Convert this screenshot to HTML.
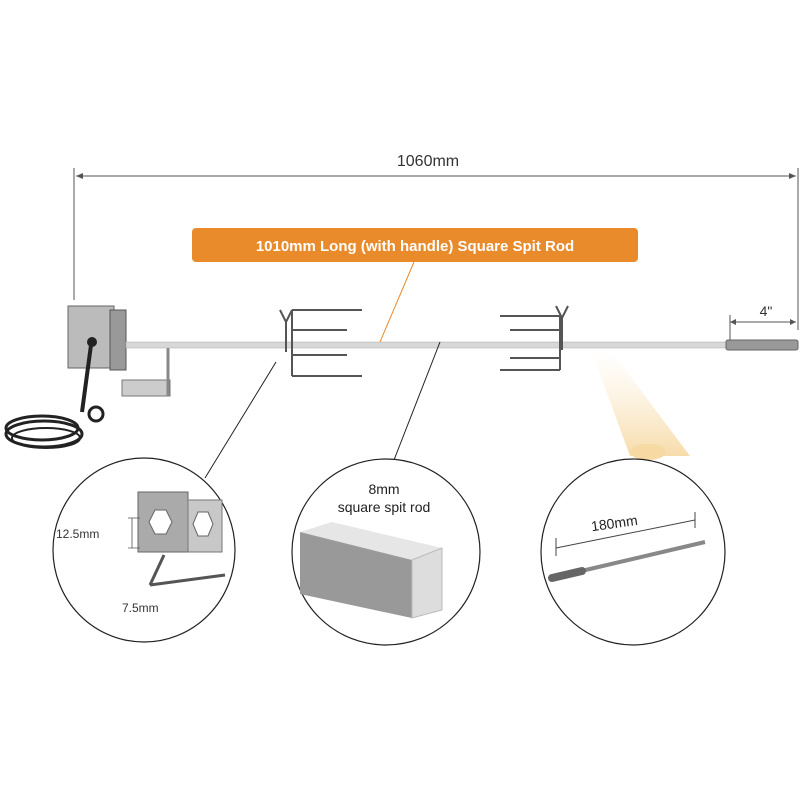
<!DOCTYPE html>
<html><head><style>body{margin:0;background:#fff}svg{display:block}text{font-family:"Liberation Sans",sans-serif}</style></head><body>
<svg width="800" height="800" viewBox="0 0 800 800">
<defs><linearGradient id="cone" x1="0" y1="0" x2="0" y2="1"><stop offset="0" stop-color="#fff" stop-opacity="0.6"/><stop offset="1" stop-color="#f7dcaa"/></linearGradient></defs>
<line x1="74" y1="168" x2="74" y2="300" stroke="#555" stroke-width="1"/>
<line x1="798" y1="168" x2="798" y2="330" stroke="#555" stroke-width="1"/>
<line x1="76" y1="176" x2="796" y2="176" stroke="#555" stroke-width="1"/>
<path d="M76 176 l7 -3 v6z M796 176 l-7 -3 v6z" fill="#555"/>
<text x="428" y="166" font-size="16" fill="#333" text-anchor="middle">1060mm</text>
<rect x="192" y="228" width="446" height="34" rx="4" fill="#e98a2b"/>
<text x="415" y="251" font-size="15" font-weight="bold" fill="#fff" text-anchor="middle">1010mm Long (with handle) Square Spit Rod</text>
<line x1="414" y1="262" x2="380" y2="342" stroke="#e98a2b" stroke-width="1"/>
<line x1="730" y1="322" x2="796" y2="322" stroke="#555"/>
<path d="M730 322 l6 -3 v6z M796 322 l-6 -3 v6z" fill="#555"/>
<line x1="730" y1="315" x2="730" y2="340" stroke="#555"/>
<text x="766" y="316" font-size="14" fill="#333" text-anchor="middle">4"</text>
<!-- motor -->
<rect x="68" y="306" width="46" height="62" fill="#bbb" stroke="#666"/>
<rect x="110" y="310" width="16" height="60" fill="#999" stroke="#555"/>
<circle cx="92" cy="342" r="5" fill="#222"/>
<path d="M91 345 L82 412" stroke="#222" stroke-width="4" fill="none"/>
<ellipse cx="42" cy="428" rx="36" ry="12" fill="none" stroke="#222" stroke-width="3"/>
<ellipse cx="44" cy="434" rx="38" ry="13" fill="none" stroke="#222" stroke-width="3"/>
<ellipse cx="46" cy="438" rx="34" ry="10" fill="none" stroke="#222" stroke-width="2"/>
<circle cx="96" cy="414" r="7" fill="none" stroke="#222" stroke-width="3"/>
<rect x="122" y="380" width="48" height="16" fill="#ccc" stroke="#777"/>
<line x1="168" y1="346" x2="168" y2="396" stroke="#888" stroke-width="3"/>
<rect x="126" y="342" width="600" height="6" fill="#d8d8d8" stroke="#aaa" stroke-width="0.5"/>
<rect x="726" y="340" width="72" height="10" rx="2" fill="#999" stroke="#666"/>
<g stroke="#555" stroke-width="2" fill="none">
<path d="M292 310 h70 M292 330 h55 M292 355 h55 M292 376 h70 M292 310 v66"/>
<path d="M280 310 l6 12 l6 -12 M286 322 v30"/>
<path d="M560 316 h-60 M560 330 h-50 M560 358 h-50 M560 370 h-60 M560 316 v54"/>
<path d="M556 306 l6 12 l6 -12 M562 318 v32"/>
</g>
<path d="M592 352 L612 352 L690 456 L630 456 Z" fill="url(#cone)"/>
<ellipse cx="648" cy="452" rx="18" ry="8" fill="#f6d9a3"/>
<line x1="276" y1="362" x2="205" y2="478" stroke="#222"/>
<line x1="440" y1="342" x2="394" y2="460" stroke="#222"/>
<g fill="#fff" stroke="#222" stroke-width="1.2">
<ellipse cx="144" cy="550" rx="91" ry="92"/>
<ellipse cx="386" cy="552" rx="94" ry="93"/>
<ellipse cx="633" cy="552" rx="92" ry="93"/>
</g>
<rect x="138" y="492" width="50" height="60" fill="#aaa" stroke="#666"/>
<rect x="188" y="500" width="34" height="52" fill="#c8c8c8" stroke="#777"/>
<polygon points="155,510 166,510 172,522 166,534 155,534 149,522" fill="#fff" stroke="#666"/>
<polygon points="198,512 208,512 213,524 208,536 198,536 193,524" fill="#fff" stroke="#666"/>
<path d="M150 585 L225 575 M150 585 l14 -30" stroke="#555" stroke-width="3" fill="none"/>
<path d="M128 518 h12 M128 548 h12 M132 518 v30" stroke="#555" stroke-width="0.8" fill="none"/>
<text x="56" y="538" font-size="12" fill="#333">12.5mm</text>
<text x="122" y="612" font-size="12" fill="#333">7.5mm</text>
<text x="384" y="494" font-size="14" fill="#222" text-anchor="middle">8mm</text>
<text x="384" y="512" font-size="14" fill="#222" text-anchor="middle">square spit rod</text>
<polygon points="300,532 332,522 442,548 412,560" fill="#e6e6e6"/>
<polygon points="300,532 412,560 412,618 300,594" fill="#999"/>
<polygon points="412,560 442,548 442,610 412,618" fill="#ddd" stroke="#bbb"/>
<text x="615" y="528" font-size="14" fill="#222" text-anchor="middle" transform="rotate(-8 615 528)">180mm</text>
<line x1="556" y1="548" x2="695" y2="520" stroke="#444"/>
<line x1="556" y1="538" x2="556" y2="556" stroke="#444"/>
<line x1="695" y1="512" x2="695" y2="528" stroke="#444"/>
<line x1="560" y1="576" x2="705" y2="542" stroke="#888" stroke-width="4"/>
<line x1="552" y1="578" x2="582" y2="571" stroke="#666" stroke-width="8" stroke-linecap="round"/>
</svg>
</body></html>
